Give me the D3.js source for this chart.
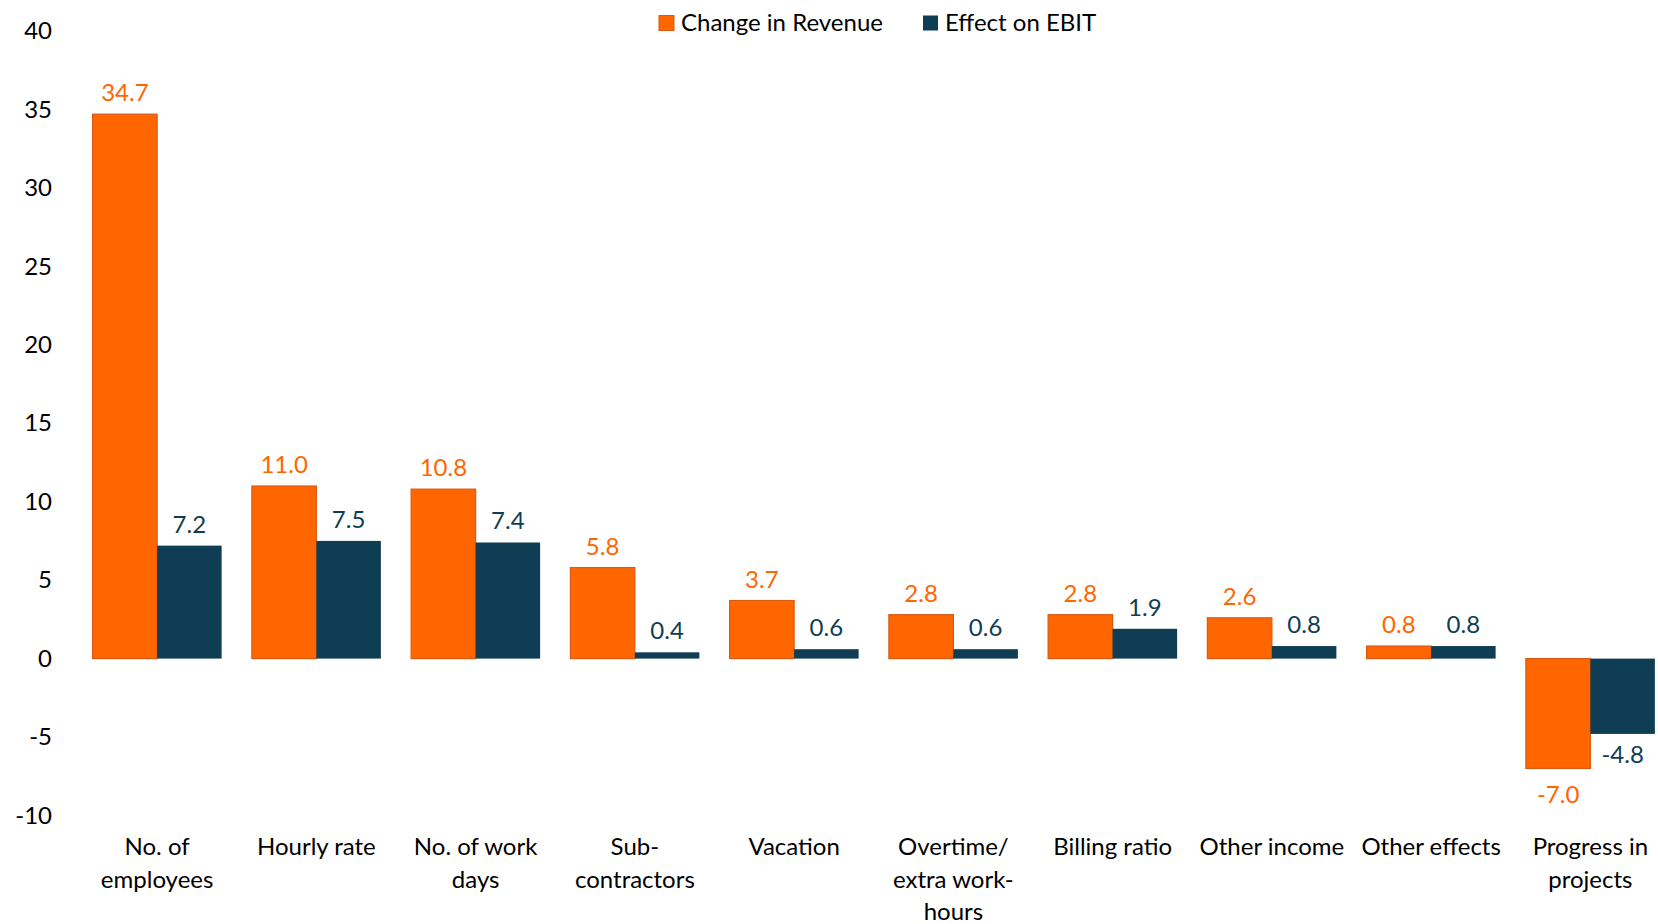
<!DOCTYPE html>
<html>
<head>
<meta charset="utf-8">
<script src="https://cdn.jsdelivr.net/npm/d3@7"></script>
<style>
  body { margin: 0; background: #fff; }
  svg { font-family: Lato, "Open Sans", sans-serif; display: block; }
</style>
</head>
<body>
<div id="chart"></div>
<script>
const categories = ["No. of\nemployees", "Hourly rate", "No. of work\ndays", "Sub-\ncontractors", "Vacation",
    "Overtime/\nextra work-\nhours", "Billing ratio", "Other income", "Other effects", "Progress in\nprojects"];
const revenue = [34.7, 11.0, 10.8, 5.8, 3.7, 2.8, 2.8, 2.6, 0.8, -7.0];
const ebit = [7.2, 7.5, 7.4, 0.4, 0.6, 0.6, 1.9, 0.8, 0.8, -4.8];
const seriesNames = ["Change in Revenue", "Effect on EBIT"];
const yTicks = [-10, -5, 0, 5, 10, 15, 20, 25, 30, 35, 40];

const colors = ["#ff6600", "#0f3d54"];
const width = 1658, height = 924;
const fontSize = 24;

const svg = d3.select('#chart')
    .append('svg')
    .attr('width', width)
    .attr('height', height);

// scales
const x = d3.scaleBand()
    .domain(d3.range(categories.length))
    .range([77.5, 1670])
    .paddingInner(0.19)
    .paddingOuter(0.095);

const x1 = d3.scaleBand()
    .domain([0, 1])
    .range([0, x.bandwidth()]);

const y = d3.scaleLinear()
    .domain([-10, 40])
    .range([815.5, 31]);

// y axis, labels only
const yAxis = svg.append('g')
    .attr('transform', 'translate(60,0)')
    .call(d3.axisLeft(y).tickValues(yTicks).tickFormat(d => String(d)).tickSize(0).tickPadding(8));
yAxis.select('.domain').remove();
yAxis.selectAll('text')
    .attr('font-family', 'Lato, sans-serif')
    .attr('font-size', fontSize)
    .attr('fill', '#000');

// bars
const data = categories.map((c, i) => ({ i, vals: [revenue[i], ebit[i]] }));

const groups = svg.selectAll('.group')
    .data(data)
    .join('g')
    .attr('class', 'group')
    .attr('transform', d => `translate(${x(d.i)},0)`);

groups.selectAll('rect')
    .data(d => d.vals.map((v, s) => ({ v, s })))
    .join('rect')
    .attr('x', d => x1(d.s))
    .attr('y', d => y(Math.max(0, d.v)))
    .attr('width', x1.bandwidth())
    .attr('height', d => Math.abs(y(d.v) - y(0)))
    .attr('fill', d => colors[d.s])
    .attr('stroke', d => d.s === 0 ? '#d85a14' : 'none')
    .attr('stroke-width', 1.2);

// value labels
groups.selectAll('.val')
    .data(d => d.vals.map((v, s) => ({ v, s })))
    .join('text')
    .attr('class', 'val')
    .attr('x', d => x1(d.s) + x1.bandwidth() / 2)
    .attr('y', d => d.v >= 0 ? y(d.v) - 13 : y(d.v) + (d.s === 0 ? 35 : 29))
    .attr('text-anchor', 'middle')
    .attr('font-size', fontSize)
    .attr('fill', d => colors[d.s])
    .text(d => d.v.toFixed(1));

// category labels
const catLabels = svg.selectAll('.cat')
    .data(categories)
    .join('text')
    .attr('class', 'cat')
    .attr('text-anchor', 'middle')
    .attr('font-size', fontSize)
    .attr('fill', '#000');

catLabels.selectAll('tspan')
    .data((d, i) => d.split('\n').map(line => ({ line, i })))
    .join('tspan')
    .attr('x', d => x(d.i) + x.bandwidth() / 2)
    .attr('y', (d, j) => 855 + j * 32.5)
    .text(d => d.line);

// legend
const legend = svg.append('g').attr('class', 'legend');
const legendX = [659, 923];
seriesNames.forEach((name, s) => {
    legend.append('rect')
        .attr('x', legendX[s])
        .attr('y', 15.5)
        .attr('width', 15)
        .attr('height', 15)
        .attr('fill', colors[s])
        .attr('stroke', s === 0 ? '#d85a14' : 'none');
    legend.append('text')
        .attr('x', legendX[s] + 22)
        .attr('y', 31)
        .attr('font-size', fontSize)
        .attr('fill', '#000')
        .text(name);
});
</script>
</body>
</html>
